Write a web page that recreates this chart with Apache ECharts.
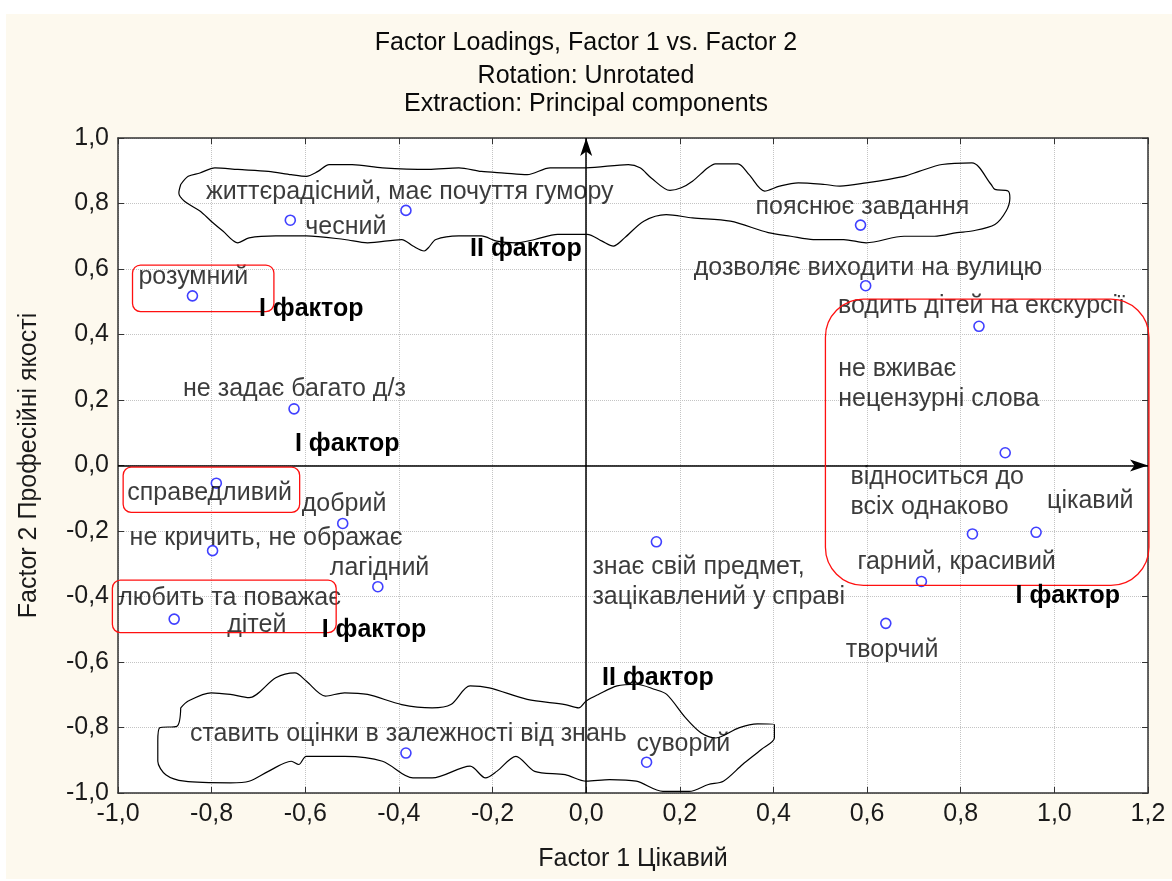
<!DOCTYPE html>
<html>
<head>
<meta charset="utf-8">
<script src="https://cdn.jsdelivr.net/npm/echarts@6/dist/echarts.min.js"></script>
<style>
  html, body { margin: 0; padding: 0; background: #fff; }
  #paper { position: absolute; left: 6px; top: 14px; width: 1166px; height: 865px; background: #fdf9ee; }
  #main { position: absolute; left: 0; top: 0; width: 1172px; height: 881px; }
</style>
</head>
<body>
<div id="paper"></div>
<div id="main"></div>
<script>
var names = [
  'життєрадісний, має почуття гумору', 'чесний', 'пояснює завдання',
  'дозволяє виходити на вулицю', 'водить дітей на екскурсії', 'не вживає\nнецензурні слова',
  'розумний', 'не задає багато д/з', 'справедливий', 'добрий',
  'не кричить, не ображає', 'лагідний', 'любить та поважає\nдітей',
  'знає свій предмет,\nзацікавлений у справі', 'відноситься до\nвсіх однаково', 'цікавий',
  'гарний, красивий', 'творчий', 'ставить оцінки в залежності від знань', 'суворий'
];
var factor1 = [-0.385, -0.632, 0.586, 0.597, 0.839, 0.895, -0.841, -0.624, -0.79, -0.52,
               -0.798, -0.445, -0.88, 0.15, 0.825, 0.961, 0.716, 0.64, -0.385, 0.129];
var factor2 = [0.779, 0.749, 0.734, 0.549, 0.425, 0.039, 0.518, 0.173, -0.054, -0.177,
               -0.26, -0.37, -0.469, -0.233, -0.209, -0.204, -0.354, -0.482, -0.878, -0.906];
var xTicks = [-1.0, -0.8, -0.6, -0.4, -0.2, 0.0, 0.2, 0.4, 0.6, 0.8, 1.0, 1.2];
var yTicks = [-1.0, -0.8, -0.6, -0.4, -0.2, 0.0, 0.2, 0.4, 0.6, 0.8, 1.0];

// where each label sits relative to its point (px: left edge of text, middle of text)
var labelOffsets = [[-200, -18], [15, 7], [-105, -18], [-172, -18], [-141, -20], [-167, -69],
                    [-54, -19], [-111, -20], [-89, 10], [-41, -19], [-83, -13], [-48, -19],
                    [-56, -7], [-64, 40], [-122, -42], [11, -31], [-64, -19], [-40, 27],
                    [-216, -19], [-10, -18]];

// hand-drawn outlines, in factor units
var topCloud = [[-0.866,0.858],[-0.85,0.883],[-0.825,0.893],[-0.793,0.909],[-0.744,0.904],[-0.679,0.898],
  [-0.63,0.888],[-0.598,0.883],[-0.573,0.898],[-0.549,0.919],[-0.5,0.919],[-0.435,0.909],[-0.337,0.904],
  [-0.272,0.909],[-0.224,0.898],[-0.175,0.893],[-0.126,0.888],[-0.077,0.909],[0.0,0.909],[0.09,0.919],
  [0.115,0.909],[0.139,0.878],[0.179,0.84],[0.203,0.848],[0.227,0.868],[0.26,0.909],[0.276,0.921],
  [0.324,0.921],[0.348,0.888],[0.381,0.838],[0.413,0.853],[0.453,0.863],[0.51,0.858],[0.542,0.853],
  [0.598,0.863],[0.679,0.883],[0.711,0.898],[0.76,0.919],[0.824,0.924],[0.865,0.858],[0.873,0.843],
  [0.901,0.838],[0.905,0.817],[0.897,0.777],[0.873,0.736],[0.824,0.716],[0.792,0.711],[0.744,0.7],
  [0.679,0.7],[0.598,0.68],[0.55,0.69],[0.485,0.69],[0.437,0.7],[0.389,0.711],[0.308,0.746],[0.227,0.756],
  [0.171,0.766],[0.123,0.746],[0.082,0.695],[0.058,0.67],[0.034,0.685],[0.002,0.706],[-0.061,0.706],
  [-0.11,0.69],[-0.15,0.68],[-0.191,0.685],[-0.224,0.701],[-0.272,0.701],[-0.321,0.69],[-0.337,0.665],
  [-0.346,0.655],[-0.37,0.67],[-0.394,0.69],[-0.467,0.68],[-0.516,0.69],[-0.598,0.701],[-0.663,0.701],
  [-0.72,0.695],[-0.744,0.68],[-0.776,0.716],[-0.801,0.746],[-0.825,0.777],[-0.858,0.807],[-0.87,0.832],
  [-0.866,0.858]];
var bottomCloud = [[-0.866,-0.74],[-0.85,-0.719],[-0.801,-0.694],[-0.76,-0.699],[-0.72,-0.709],[-0.663,-0.648],
  [-0.622,-0.633],[-0.598,-0.658],[-0.557,-0.704],[-0.516,-0.694],[-0.467,-0.699],[-0.394,-0.73],[-0.329,-0.74],
  [-0.289,-0.73],[-0.248,-0.673],[-0.207,-0.679],[-0.126,-0.714],[-0.045,-0.73],[-0.016,-0.74],[0,-0.719],
  [0.026,-0.699],[0.066,-0.673],[0.107,-0.668],[0.147,-0.684],[0.172,-0.699],[0.212,-0.77],[0.245,-0.816],
  [0.277,-0.832],[0.326,-0.801],[0.366,-0.789],[0.402,-0.791],[0.402,-0.832],[0.374,-0.867],[0.334,-0.913],
  [0.293,-0.964],[0.261,-0.974],[0.22,-0.995],[0.164,-0.995],[0.107,-0.964],[0.05,-0.959],[0,-0.964],
  [-0.045,-0.944],[-0.11,-0.934],[-0.15,-0.888],[-0.191,-0.934],[-0.215,-0.954],[-0.248,-0.918],
  [-0.329,-0.954],[-0.37,-0.954],[-0.435,-0.903],[-0.516,-0.888],[-0.598,-0.888],[-0.614,-0.913],
  [-0.63,-0.903],[-0.679,-0.934],[-0.72,-0.964],[-0.76,-0.969],[-0.858,-0.964],[-0.898,-0.944],
  [-0.915,-0.903],[-0.915,-0.842],[-0.911,-0.801],[-0.874,-0.796],[-0.866,-0.74]];
// red boxes: x1, y1, x2, y2 (factor units), corner radius
var redBoxes = [[-0.969, 0.612, -0.667, 0.47, 8], [-0.989, -0.005, -0.612, -0.143, 8],
                [-1.012, -0.35, -0.534, -0.51, 8], [0.511, 0.508, 1.202, -0.366, 38]];
var factorNotes = ['II фактор', 'I фактор', 'I фактор', 'I фактор', 'II фактор', 'I фактор'];
var factorNotePos = [[-0.248, 0.66], [-0.699, 0.477], [-0.622, 0.066], [-0.565, -0.503], [0.034, -0.65], [0.917, -0.398]];

var FONT = '"Liberation Sans", Arial, sans-serif';
var FS = 25;
var INK = '#0a0a0a';
var fmt = function (v) { return v.toFixed(1).replace('.', ','); };

var myChart = echarts.init(document.getElementById('main'));

var points = names.map(function (n, i) {
  var item = {
    name: n,
    value: [factor1[i], factor2[i]],
    label: { offset: labelOffsets[i] }
  };
  if (i === 12) {
    item.label.formatter = '{a|любить та поважає}\n{b|дітей}';
  }
  return item;
});

function axisCommon(ticks, pos, showLabels) {
  return {
    type: 'value',
    position: pos,
    min: ticks[0],
    max: ticks[ticks.length - 1],
    interval: 0.2,
    axisLine: { show: true, onZero: false, lineStyle: { color: '#333', width: 1.5 } },
    axisTick: { show: true, inside: true, length: 6, lineStyle: { color: '#333' } },
    axisLabel: { show: showLabels, formatter: fmt, color: '#1a1a1a', fontSize: FS, fontFamily: FONT, margin: 9 },
    splitLine: { show: showLabels, lineStyle: { color: '#c4c4c4', type: 'dotted', width: 1 } }
  };
}

var xMain = axisCommon(xTicks, 'bottom', true);
xMain.name = 'Factor 1 Цікавий';
xMain.nameLocation = 'middle';
xMain.nameGap = 54;
xMain.nameTextStyle = { fontSize: FS, color: '#1a1a1a', fontFamily: FONT };
var yMain = axisCommon(yTicks, 'left', true);
yMain.name = 'Factor 2 Професійні якості';
yMain.nameLocation = 'middle';
yMain.nameGap = 76;
yMain.nameTextStyle = { fontSize: FS, color: '#1a1a1a', fontFamily: FONT };

var titleStyle = { fontSize: FS, fontWeight: 'normal', color: INK, fontFamily: FONT };
var option = {
  animation: false,
  backgroundColor: 'transparent',
  title: [
    { text: 'Factor Loadings, Factor 1 vs. Factor 2', left: 'center', top: 26, textStyle: titleStyle },
    { text: 'Rotation: Unrotated', left: 'center', top: 59, textStyle: titleStyle },
    { text: 'Extraction: Principal components', left: 'center', top: 87, textStyle: titleStyle }
  ],
  grid: { left: 118, right: 24, top: 138, bottom: 88, show: true, backgroundColor: '#fff', borderWidth: 0 },
  xAxis: [xMain, axisCommon(xTicks, 'top', false)],
  yAxis: [yMain, axisCommon(yTicks, 'right', false)],
  series: [
    {
      type: 'line', data: topCloud, smooth: 0.3, showSymbol: false, silent: true,
      lineStyle: { color: '#000', width: 1.2 }, z: 3
    },
    {
      type: 'line', data: bottomCloud, smooth: 0.3, showSymbol: false, silent: true,
      lineStyle: { color: '#000', width: 1.2 }, z: 3
    },
    {
      type: 'scatter',
      data: points,
      symbol: 'circle',
      symbolSize: 10,
      itemStyle: { color: '#fff', borderColor: '#1010ff', borderWidth: 1.6 },
      z: 5,
      label: {
        show: true,
        position: 'inside',
        align: 'left',
        verticalAlign: 'middle',
        formatter: '{b}',
        color: INK,
        fontSize: FS,
        lineHeight: 30,
        fontFamily: FONT,
        rich: {
          a: { fontSize: FS, lineHeight: 27, fontFamily: FONT, color: INK },
          b: { fontSize: FS, lineHeight: 27, fontFamily: FONT, color: INK, padding: [0, 0, 0, 109] }
        }
      },
      markLine: {
        silent: true,
        symbol: ['none', 'arrow'],
        symbolSize: [9, 18],
        label: { show: false },
        lineStyle: { color: '#000', width: 1.5, type: 'solid' },
        data: [
          [{ coord: [0, yTicks[0]] }, { coord: [0, yTicks[yTicks.length - 1]] }],
          [{ coord: [xTicks[0], 0] }, { coord: [xTicks[xTicks.length - 1], 0] }]
        ]
      }
    }
  ]
};

myChart.setOption(option);

function drawNotes() {
  var g = [];
  redBoxes.forEach(function (b) {
    var p1 = myChart.convertToPixel({ gridIndex: 0 }, [b[0], b[1]]);
    var p2 = myChart.convertToPixel({ gridIndex: 0 }, [b[2], b[3]]);
    g.push({
      type: 'rect', z: 50,
      shape: { x: p1[0], y: p1[1], width: p2[0] - p1[0], height: p2[1] - p1[1], r: b[4] },
      style: { fill: 'none', stroke: '#ff1010', lineWidth: 1.3 }
    });
  });
  factorNotes.forEach(function (t, i) {
    var p = myChart.convertToPixel({ gridIndex: 0 }, factorNotePos[i]);
    g.push({
      type: 'text', z: 60, x: p[0], y: p[1],
      style: { text: t, font: 'bold ' + FS + 'px ' + FONT, fill: '#000', textAlign: 'left', textVerticalAlign: 'middle' }
    });
  });
  myChart.setOption({ graphic: g });
}
drawNotes();
</script>
</body>
</html>
